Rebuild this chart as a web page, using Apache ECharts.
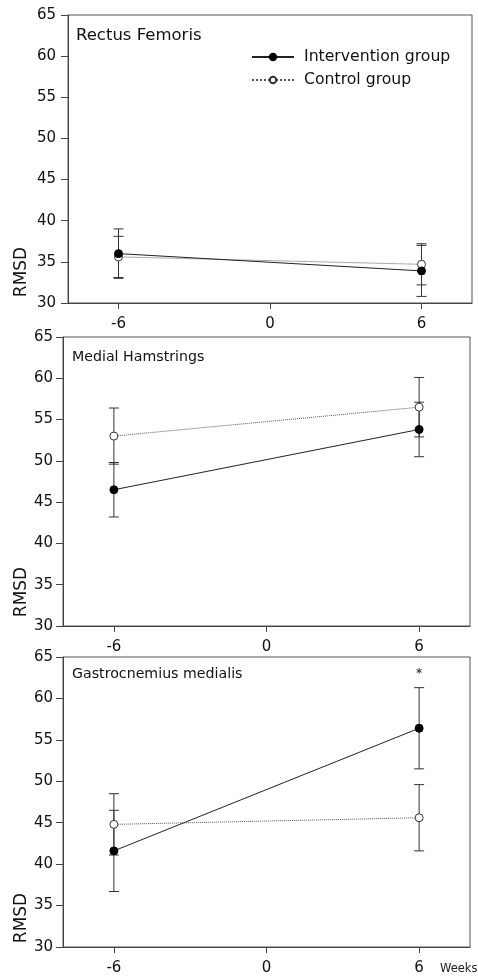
<!DOCTYPE html>
<html>
<head>
<meta charset="utf-8">
<script src="https://cdn.jsdelivr.net/npm/echarts@6.0.0/dist/echarts.min.js"></script>
<style>
  html, body { margin: 0; padding: 0; background: #fff; }
  #chart { width: 478px; height: 976px; }
</style>
</head>
<body>
<div id="chart"></div>
<script>
// weeks relative to intervention
var weeks = [-6, 6];
var xTicks = [-6, 0, 6];
var yTicks = [30, 35, 40, 45, 50, 55, 60, 65];

var panelNames = ['Rectus Femoris', 'Medial Hamstrings', 'Gastrocnemius medialis'];

// means and SD per panel
var rfIntervention = [36.0, 33.9];
var rfInterventionErr = [3.0, 3.1];
var rfControl = [35.6, 34.7];
var rfControlErr = [2.5, 2.5];

var mhIntervention = [46.5, 53.8];
var mhInterventionErr = [3.3, 3.3];
var mhControl = [53.0, 56.5];
var mhControlErr = [3.4, 3.6];

var gmIntervention = [41.6, 56.4];
var gmInterventionErr = [4.9, 4.9];
var gmControl = [44.8, 45.6];
var gmControlErr = [3.7, 4.0];

// significance marker
var starPoint = [6, 63.0];

var chart = echarts.init(document.getElementById('chart'));
var font = 'DejaVu Sans';

var panels = [
    { inter: rfIntervention, interErr: rfInterventionErr, ctrl: rfControl, ctrlErr: rfControlErr,
      grid: { left: 68, top: 15, width: 404, height: 288 }, labelMargin: 12, titleSize: 16.5, titleTop: 22, titleLeft: 71 },
    { inter: mhIntervention, interErr: mhInterventionErr, ctrl: mhControl, ctrlErr: mhControlErr,
      grid: { left: 63, top: 337, width: 407, height: 289 }, labelMargin: 10, titleSize: 14.2, titleTop: 345, titleLeft: 67 },
    { inter: gmIntervention, interErr: gmInterventionErr, ctrl: gmControl, ctrlErr: gmControlErr,
      grid: { left: 63, top: 657, width: 407, height: 290 }, labelMargin: 10, titleSize: 14.2, titleTop: 662, titleLeft: 67 }
];

function errorBar(params, api) {
    var x = api.value(0);
    var top = api.coord([x, api.value(2)]);
    var bot = api.coord([x, api.value(1)]);
    var hw = 5;
    var st = { stroke: '#333', lineWidth: 1 };
    return {
        type: 'group',
        children: [
            { type: 'line', shape: { x1: top[0], y1: top[1], x2: bot[0], y2: bot[1] }, style: st },
            { type: 'line', shape: { x1: top[0] - hw, y1: top[1], x2: top[0] + hw, y2: top[1] }, style: st },
            { type: 'line', shape: { x1: bot[0] - hw, y1: bot[1], x2: bot[0] + hw, y2: bot[1] }, style: st }
        ]
    };
}

function pairs(vals) {
    return weeks.map(function (w, i) { return [w, vals[i]]; });
}
function bars(vals, errs) {
    return weeks.map(function (w, i) { return [w, vals[i] - errs[i], vals[i] + errs[i]]; });
}

var grids = [], xAxes = [], yAxes = [], series = [], titles = [], graphics = [];

panels.forEach(function (p, k) {
    grids.push(Object.assign({ show: true, borderColor: '#555', borderWidth: 1, backgroundColor: 'transparent' }, p.grid));
    titles.push({
        text: panelNames[k], left: p.titleLeft, top: p.titleTop,
        textStyle: { fontFamily: font, fontSize: p.titleSize, fontWeight: 'normal', color: '#111' }
    });
    xAxes.push({
        type: 'value', gridIndex: k, min: -8, max: 8,
        axisLine: { show: true, onZero: false, lineStyle: { color: '#444', width: 1 } },
        axisTick: { show: true, inside: false, length: 6, customValues: xTicks, lineStyle: { color: '#444' } },
        axisLabel: { customValues: xTicks, margin: 14, fontFamily: font, fontSize: 15, color: '#111' },
        splitLine: { show: false }
    });
    yAxes.push({
        type: 'value', gridIndex: k, min: 30, max: 65, interval: 5,
        axisLine: { show: true, onZero: false, lineStyle: { color: '#444', width: 1 } },
        axisTick: { show: true, inside: false, length: 7, lineStyle: { color: '#444' } },
        axisLabel: { margin: p.labelMargin, fontFamily: font, fontSize: 15, color: '#111' },
        splitLine: { show: false }
    });
    series.push({
        type: 'line', name: 'Intervention group', xAxisIndex: k, yAxisIndex: k, z: 4,
        symbol: 'circle', symbolSize: 8,
        lineStyle: { color: '#222', width: 1 },
        itemStyle: { color: '#000', borderColor: '#000', borderWidth: 1 },
        data: pairs(p.inter)
    });
    series.push({
        type: 'line', name: 'Control group', xAxisIndex: k, yAxisIndex: k, z: 3,
        symbol: 'circle', symbolSize: 8,
        lineStyle: { color: '#555', width: 1, type: 'dotted' },
        itemStyle: { color: '#fff', borderColor: '#333', borderWidth: 1 },
        data: pairs(p.ctrl)
    });
    series.push({
        type: 'custom', name: 'Intervention SD', xAxisIndex: k, yAxisIndex: k, z: 1,
        renderItem: errorBar, encode: { x: 0, y: [1, 2] }, data: bars(p.inter, p.interErr), silent: true
    });
    series.push({
        type: 'custom', name: 'Control SD', xAxisIndex: k, yAxisIndex: k, z: 1,
        renderItem: errorBar, encode: { x: 0, y: [1, 2] }, data: bars(p.ctrl, p.ctrlErr), silent: true
    });

    graphics.push({
        type: 'text', x: 22, y: [272, 592, 918][k], rotation: Math.PI / 2, silent: true,
        style: { text: 'RMSD', fontFamily: font, fontSize: 17, fill: '#111', align: 'center', verticalAlign: 'middle' }
    });
});

// asterisk in the last panel
series.push({
    type: 'scatter', name: 'sig', xAxisIndex: 2, yAxisIndex: 2, symbolSize: 0, z: 5, silent: true,
    label: { show: true, position: 'inside', formatter: '*', fontFamily: font, fontSize: 12, fontWeight: 'bold', color: '#111' },
    data: [starPoint]
});

graphics.push({
    type: 'text', x: 440, y: 969, silent: true,
    style: { text: 'Weeks', fontFamily: font, fontSize: 11.5, fill: '#222', align: 'left', verticalAlign: 'middle' }
});

var option = {
    animation: false,
    backgroundColor: '#fff',
    title: titles,
    legend: {
        data: ['Intervention group', 'Control group'],
        orient: 'vertical', left: 251, top: 49, padding: 0,
        itemWidth: 42, itemHeight: 8, itemGap: 7,
        textStyle: { fontFamily: font, fontSize: 15.7, color: '#111', padding: [0, 0, 0, 5] }
    },
    grid: grids,
    xAxis: xAxes,
    yAxis: yAxes,
    series: series,
    graphic: graphics
};

chart.setOption(option);

window.onresize = function () {
    chart.resize();
};
</script>
</body>
</html>
